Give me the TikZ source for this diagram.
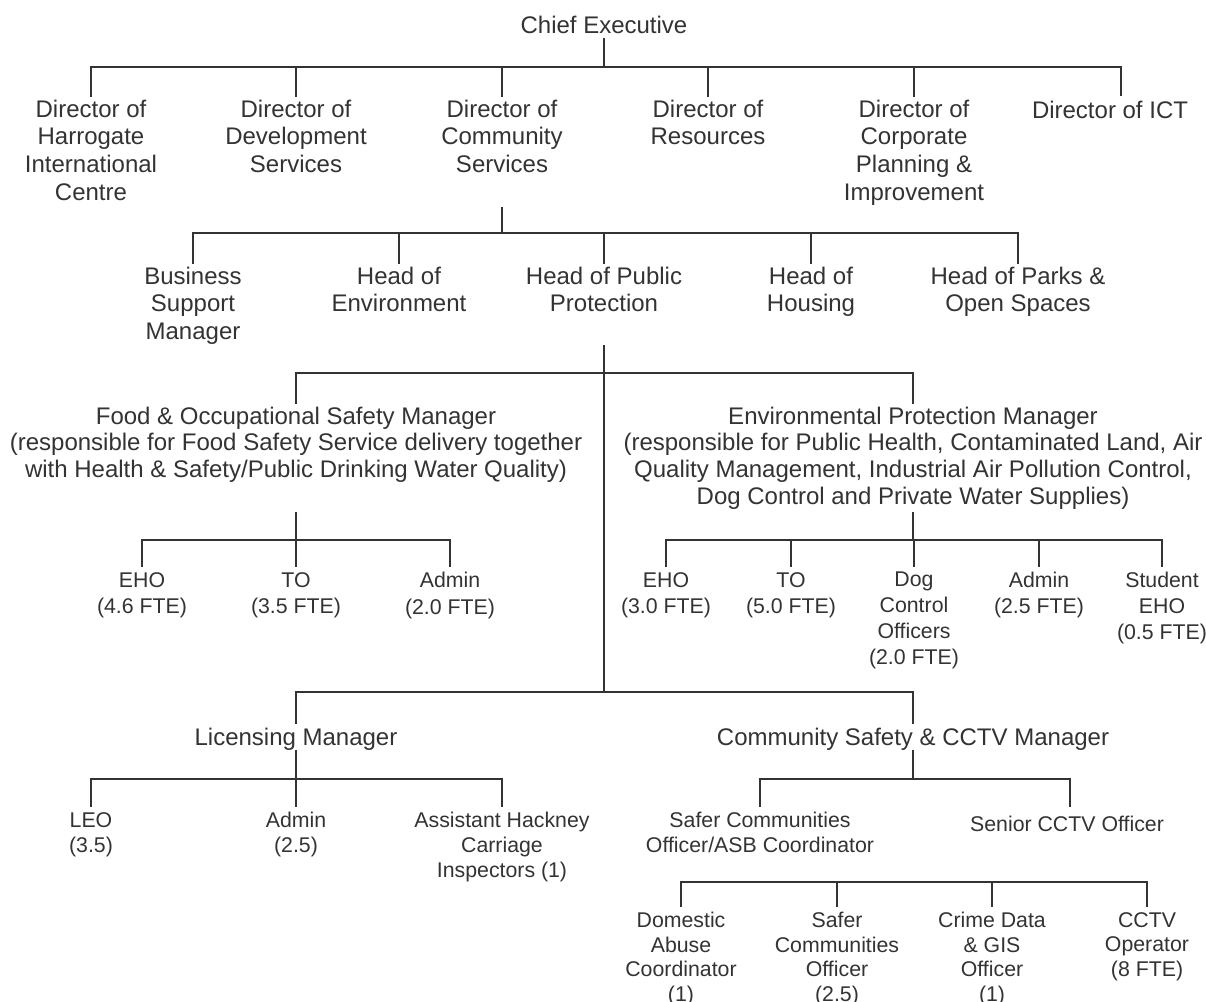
\documentclass[tikz,border=0pt]{standalone}
\usepackage{fontspec}
\setmainfont{Liberation Sans}
\definecolor{ink}{HTML}{333333}
\tikzset{
  lbl/.style={anchor=north, align=center, inner sep=0pt, text=ink,
    font=\fontsize{24}{#1}\selectfont, execute at begin node={\rule{0pt}{19pt}}},
  lbl/.default=27.5,
  staff/.style={anchor=north, align=center, inner sep=0pt, text=ink,
    font=\fontsize{21.3}{#1}\selectfont, execute at begin node={\rule{0pt}{19pt}}},
  staff/.default=26.5,
  conn/.style={draw=ink, line width=2.3pt, line join=miter},
}
\begin{document}
\begin{tikzpicture}[x=1pt,y=-1pt]
\fill[white] (0,0) rectangle (1206,1001);
\useasboundingbox (0,0) rectangle (1206,1001);

% ---------- level 0 / 1
\node[lbl] (ce) at (604,14.6) {Chief Executive};
\node[lbl=27.7] (d1) at (91,99.6) {Director of\\Harrogate\\International\\Centre};
\node[lbl=27.7] (d2) at (296,99.6) {Director of\\Development\\Services};
\node[lbl=27.7] (d3) at (502,99.6) {Director of\\Community\\Services};
\node[lbl=27.7] (d4) at (708,99.6) {Director of\\Resources};
\node[lbl=27.7] (d5) at (914,99.6) {Director of\\Corporate\\Planning \&\\Improvement};
\node[lbl=27.7] (d6) at (1110,99.6) {Director of ICT};

% ---------- level 2
\node[lbl] (h1) at (193,266.6) {Business\\Support\\Manager};
\node[lbl] (h2) at (399,266.6) {Head of\\Environment};
\node[lbl] (h3) at (604,266.6) {Head of Public\\Protection};
\node[lbl] (h4) at (811,266.6) {Head of\\Housing};
\node[lbl] (h5) at (1018,266.6) {Head of Parks \&\\Open Spaces};

% ---------- level 3
\node[lbl=26.7] (fm) at (296,406.6) {Food \& Occupational Safety Manager\\(responsible for Food Safety Service delivery together\\with Health \& Safety/Public Drinking Water Quality)};
\node[lbl=26.7] (em) at (913,406.6) {Environmental Protection Manager\\(responsible for Public Health, Contaminated Land, Air\\Quality Management, Industrial Air Pollution Control,\\Dog Control and Private Water Supplies)};

\node[staff] (f1) at (142,572) {EHO\\(4.6 FTE)};
\node[staff] (f2) at (296,572) {TO\\(3.5 FTE)};
\node[staff] (f3) at (450,572) {Admin\\(2.0 FTE)};

\node[staff=26] (e1) at (666,572) {EHO\\(3.0 FTE)};
\node[staff=26] (e2) at (791,572) {TO\\(5.0 FTE)};
\node[staff=26] (e3) at (914,572) {Dog\\Control\\Officers\\(2.0 FTE)};
\node[staff=26] (e4) at (1039,572) {Admin\\(2.5 FTE)};
\node[staff=26] (e5) at (1162,572) {Student\\EHO\\(0.5 FTE)};

\node[lbl] (lm) at (296,726.6) {Licensing Manager};
\node[lbl] (cm) at (913,726.6) {Community Safety \& CCTV Manager};

\node[staff=25] (l1) at (91,812) {LEO\\(3.5)};
\node[staff=25] (l2) at (296,812) {Admin\\(2.5)};
\node[staff=25] (l3) at (502,812) {Assistant Hackney\\Carriage\\Inspectors (1)};

\node[staff=25] (c1) at (760,812) {Safer Communities\\Officer/ASB Coordinator};
\node[staff=25] (c2) at (1067,812) {Senior CCTV Officer};

\node[staff=24.5] (k1) at (681,912) {Domestic\\Abuse\\Coordinator\\(1)};
\node[staff=24.5] (k2) at (837,912) {Safer\\Communities\\Officer\\(2.5)};
\node[staff=24.5] (k3) at (992,912) {Crime Data\\\& GIS\\Officer\\(1)};
\node[staff=24.5] (k4) at (1147,912) {CCTV\\Operator\\(8 FTE)};

% ---------- connectors
% Chief Executive -> directors
\coordinate (t0) at (ce.south |- 0,38);
\coordinate (b0) at (ce.south |- 0,67);
\coordinate (d6d) at (1121,96.4);
\draw[conn] (t0) -- (b0);
\draw[conn] ([yshift=3pt]d1.north) -- (d1.north |- b0) -- (b0 -| d6d) -- (d6d);
\foreach \n in {d2,d3,d4,d5} \draw[conn] (\n.north |- b0) -- ([yshift=3pt]\n.north);

% Director of Community Services -> heads
\coordinate (t1) at (d3.south |- 0,207);
\coordinate (b1) at (d3.south |- 0,233);
\draw[conn] (t1) -- (b1);
\draw[conn] ([yshift=3pt]h1.north) -- (h1.north |- b1) -- (h5.north |- b1) -- ([yshift=3pt]h5.north);
\foreach \n in {h2,h3,h4} \draw[conn] (\n.north |- b1) -- ([yshift=3pt]\n.north);

% Head of Public Protection -> managers
\coordinate (t2) at (h3.south |- 0,345);
\coordinate (b2) at (h3.south |- 0,373);
\coordinate (b4) at (h3.south |- 0,692);
\draw[conn] (t2) -- (b4);
\draw[conn] ([yshift=3pt]fm.north) -- (fm.north |- b2) -- (em.north |- b2) -- ([yshift=3pt]em.north);
\draw[conn] ([yshift=3pt]lm.north) -- (lm.north |- b4) -- (cm.north |- b4) -- ([yshift=3pt]cm.north);

% Food & Occupational Safety Manager -> staff
\coordinate (t3) at (fm.south |- 0,512);
\coordinate (b3) at (fm.south |- 0,540);
\draw[conn] (t3) -- (b3);
\draw[conn] ([yshift=5pt]f1.north) -- (f1.north |- b3) -- (f3.north |- b3) -- ([yshift=5pt]f3.north);
\draw[conn] (f2.north |- b3) -- ([yshift=5pt]f2.north);

% Environmental Protection Manager -> staff
\coordinate (t5) at (em.south |- 0,512);
\coordinate (b5) at (em.south |- 0,540);
\draw[conn] (t5) -- (b5);
\draw[conn] ([yshift=5pt]e1.north) -- (e1.north |- b5) -- (e5.north |- b5) -- ([yshift=5pt]e5.north);
\foreach \n in {e2,e3,e4} \draw[conn] (\n.north |- b5) -- ([yshift=5pt]\n.north);

% Licensing Manager -> staff
\coordinate (t6) at (lm.south |- 0,750);
\coordinate (b6) at (lm.south |- 0,779);
\draw[conn] (t6) -- (b6);
\draw[conn] ([yshift=5pt]l1.north) -- (l1.north |- b6) -- (l3.north |- b6) -- ([yshift=5pt]l3.north);
\draw[conn] (l2.north |- b6) -- ([yshift=5pt]l2.north);

% Community Safety & CCTV Manager -> staff
\coordinate (t7) at (cm.south |- 0,750);
\coordinate (b7) at (cm.south |- 0,779);
\coordinate (c2d) at (1070,807);
\draw[conn] (t7) -- (b7);
\draw[conn] ([yshift=5pt]c1.north) -- (c1.north |- b7) -- (b7 -| c2d) -- (c2d);

% bottom group
\coordinate (b8) at (k1.north |- 0,882);
\draw[conn] ([yshift=5pt]k1.north) -- (b8) -- (k4.north |- b8) -- ([yshift=5pt]k4.north);
\foreach \n in {k2,k3} \draw[conn] (\n.north |- b8) -- ([yshift=5pt]\n.north);
\end{tikzpicture}
\end{document}
